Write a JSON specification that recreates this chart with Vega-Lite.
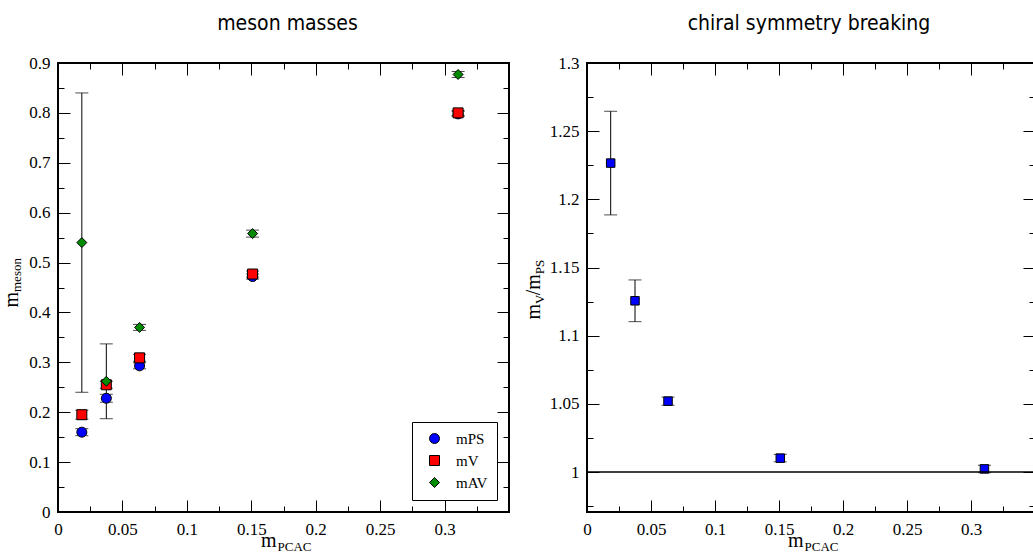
{
  "$schema": "https://vega.github.io/schema/vega-lite/v6.json",
  "background": "white",
  "padding": {"left": 0, "top": 12, "right": 0, "bottom": 0},
  "spacing": 11,
  "resolve": {"legend": {"color": "independent", "shape": "independent"}},
  "config": {
    "view": {"stroke": "black", "strokeWidth": 2},
    "axis": {"grid": false, "domain": false, "labelFont": "Liberation Serif", "labelFontSize": 17, "labelColor": "black", "titleFont": "Liberation Serif", "titleColor": "black", "titleFontWeight": "normal", "tickColor": "black", "tickWidth": 1, "labelFlush": false, "labelOverlap": false, "minExtent": 0},
    "title": {"font": "DejaVu Sans Condensed", "fontSize": 21, "fontWeight": "normal", "color": "black"},
    "legend": {"title": null, "orient": "bottom-right", "offset": 12, "strokeColor": "black", "fillColor": "white", "padding": 9, "labelFont": "Liberation Serif", "labelFontSize": 15, "labelColor": "black", "symbolSize": 100, "symbolOffset": 6, "labelOffset": 14, "rowPadding": 6, "symbolStrokeColor": "black", "symbolStrokeWidth": 1}
  },
  "datasets": {
    "meson": [
      {"x": 0.0185, "series": "mPS", "m": 0.160, "lo": 0.153, "hi": 0.167},
      {"x": 0.0375, "series": "mPS", "m": 0.228, "lo": 0.220, "hi": 0.236},
      {"x": 0.0633, "series": "mPS", "m": 0.293, "lo": 0.287, "hi": 0.299},
      {"x": 0.151, "series": "mPS", "m": 0.472, "lo": 0.467, "hi": 0.477},
      {"x": 0.3105, "series": "mPS", "m": 0.798, "lo": 0.793, "hi": 0.803},
      {"x": 0.0185, "series": "mV", "m": 0.195, "lo": 0.186, "hi": 0.204},
      {"x": 0.0375, "series": "mV", "m": 0.255, "lo": 0.248, "hi": 0.262},
      {"x": 0.0633, "series": "mV", "m": 0.309, "lo": 0.302, "hi": 0.316},
      {"x": 0.151, "series": "mV", "m": 0.477, "lo": 0.471, "hi": 0.483},
      {"x": 0.3105, "series": "mV", "m": 0.800, "lo": 0.795, "hi": 0.805},
      {"x": 0.0185, "series": "mAV", "m": 0.540, "lo": 0.240, "hi": 0.840},
      {"x": 0.0375, "series": "mAV", "m": 0.262, "lo": 0.187, "hi": 0.337},
      {"x": 0.0633, "series": "mAV", "m": 0.370, "lo": 0.364, "hi": 0.376},
      {"x": 0.151, "series": "mAV", "m": 0.558, "lo": 0.551, "hi": 0.565},
      {"x": 0.3105, "series": "mAV", "m": 0.877, "lo": 0.871, "hi": 0.883}
    ],
    "ratio": [
      {"x": 0.0185, "r": 1.2266, "lo": 1.1886, "hi": 1.2646},
      {"x": 0.0375, "r": 1.1256, "lo": 1.1103, "hi": 1.1409},
      {"x": 0.0633, "r": 1.052, "lo": 1.049, "hi": 1.055},
      {"x": 0.151, "r": 1.0102, "lo": 1.0075, "hi": 1.013},
      {"x": 0.3105, "r": 1.0023, "lo": 0.9995, "hi": 1.005}
    ],
    "refline": [{"ref": 1}]
  },
  "hconcat": [
    {
      "title": {"text": "meson masses", "offset": 3, "baseline": "alphabetic", "dx": 4},
      "width": 451,
      "height": 449,
      "data": {"name": "meson"},
      "resolve": {"axis": {"x": "independent", "y": "independent"}},
      "layer": [
        {
          "mark": {"type": "rule", "color": "black", "strokeWidth": 1},
          "encoding": {
            "x": {"field": "x", "type": "quantitative", "scale": {"domain": [0, 0.35], "nice": false, "zero": false},
              "axis": {"orient": "bottom", "values": [0, 0.025, 0.05, 0.075, 0.1, 0.125, 0.15, 0.175, 0.2, 0.225, 0.25, 0.275, 0.3, 0.325], "format": "~g",
                "labelExpr": "abs(datum.value*20-round(datum.value*20))<0.001 && datum.value<0.31 ? datum.label : ''",
                "tickSize": {"condition": {"test": "abs(datum.value*20-round(datum.value*20))<0.001", "value": -12}, "value": -6},
                "labelPadding": 21, "labelBaseline": "top",
                "title": "m", "titleFontSize": 20, "titleX": 218, "titleY": 34, "titleAlign": "right", "titleBaseline": "alphabetic"}},
            "y": {"field": "lo", "type": "quantitative", "scale": {"domain": [0, 0.9], "nice": false, "zero": false},
              "axis": {"orient": "left", "values": [0, 0.05, 0.1, 0.15, 0.2, 0.25, 0.3, 0.35, 0.4, 0.45, 0.5, 0.55, 0.6, 0.65, 0.7, 0.75, 0.8, 0.85, 0.9], "format": "~g",
                "labelExpr": "abs(datum.value*10-round(datum.value*10))<0.001 ? datum.label : ''",
                "tickSize": {"condition": {"test": "abs(datum.value*10-round(datum.value*10))<0.001", "value": -12}, "value": -6},
                "labelPadding": 20,
                "title": "m", "titleFontSize": 20, "titleAngle": 270, "titleX": -41, "titleY": 244, "titleAlign": "left", "titleBaseline": "alphabetic"}},
            "y2": {"field": "hi"}
          }
        },
        {
          "mark": {"type": "tick", "orient": "horizontal", "color": "black", "size": 13, "thickness": 1},
          "encoding": {
            "x": {"field": "x", "type": "quantitative",
              "axis": {"orient": "top", "values": [0, 0.025, 0.05, 0.075, 0.1, 0.125, 0.15, 0.175, 0.2, 0.225, 0.25, 0.275, 0.3, 0.325], "labels": false,
                "tickSize": {"condition": {"test": "abs(datum.value*20-round(datum.value*20))<0.001", "value": -12}, "value": -6}, "title": null}},
            "y": {"field": "lo", "type": "quantitative",
              "axis": {"orient": "right", "values": [0, 0.05, 0.1, 0.15, 0.2, 0.25, 0.3, 0.35, 0.4, 0.45, 0.5, 0.55, 0.6, 0.65, 0.7, 0.75, 0.8, 0.85, 0.9], "labels": false,
                "tickSize": {"condition": {"test": "abs(datum.value*10-round(datum.value*10))<0.001", "value": -12}, "value": -6}, "title": null}}
          }
        },
        {
          "mark": {"type": "tick", "orient": "horizontal", "color": "black", "size": 13, "thickness": 1},
          "encoding": {
            "x": {"field": "x", "type": "quantitative",
              "axis": {"orient": "bottom", "labels": false, "ticks": false, "title": "PCAC", "titleFontSize": 13, "titleX": 219, "titleY": 38.5, "titleAlign": "left", "titleBaseline": "alphabetic"}},
            "y": {"field": "hi", "type": "quantitative",
              "axis": {"orient": "left", "labels": false, "ticks": false, "title": "meson", "titleFontSize": 13, "titleAngle": 270, "titleX": -37.5, "titleY": 228.5, "titleAlign": "left", "titleBaseline": "alphabetic"}}
          }
        },
        {
          "mark": {"type": "point", "filled": true, "stroke": "black", "strokeWidth": 1, "opacity": 1, "size": 100},
          "encoding": {
            "x": {"field": "x", "type": "quantitative", "axis": null},
            "y": {"field": "m", "type": "quantitative", "axis": null},
            "color": {"field": "series", "type": "nominal", "scale": {"domain": ["mPS", "mV", "mAV"], "range": ["#0000ff", "#ff0000", "#008b00"]}, "legend": {"orient": "bottom-right"}},
            "shape": {"field": "series", "type": "nominal", "scale": {"domain": ["mPS", "mV", "mAV"], "range": ["circle", "square", "diamond"]}, "legend": {"orient": "bottom-right"}}
          }
        }
      ]
    },
    {
      "title": {"text": "chiral symmetry breaking", "offset": 3, "baseline": "alphabetic", "dx": -2},
      "width": 448,
      "height": 449,
      "data": {"name": "ratio"},
      "resolve": {"axis": {"x": "independent", "y": "independent"}},
      "layer": [
        {
          "mark": {"type": "rule", "color": "black", "strokeWidth": 1},
          "encoding": {
            "x": {"field": "x", "type": "quantitative", "scale": {"domain": [0, 0.35], "nice": false, "zero": false},
              "axis": {"orient": "bottom", "values": [0, 0.025, 0.05, 0.075, 0.1, 0.125, 0.15, 0.175, 0.2, 0.225, 0.25, 0.275, 0.3, 0.325], "format": "~g",
                "labelExpr": "abs(datum.value*20-round(datum.value*20))<0.001 && datum.value<0.31 ? datum.label : ''",
                "tickSize": {"condition": {"test": "abs(datum.value*20-round(datum.value*20))<0.001", "value": -12}, "value": -6},
                "labelPadding": 21, "labelBaseline": "top",
                "title": "m", "titleFontSize": 20, "titleX": 216, "titleY": 34, "titleAlign": "right", "titleBaseline": "alphabetic"}},
            "y": {"field": "lo", "type": "quantitative", "scale": {"domain": [0.9707, 1.3], "nice": false, "zero": false},
              "axis": {"orient": "left", "values": [0.975, 1, 1.025, 1.05, 1.075, 1.1, 1.125, 1.15, 1.175, 1.2, 1.225, 1.25, 1.275, 1.3], "format": "~g",
                "labelExpr": "abs(datum.value*20-round(datum.value*20))<0.001 ? datum.label : ''",
                "tickSize": {"condition": {"test": "abs(datum.value*20-round(datum.value*20))<0.001", "value": -12}, "value": -6},
                "labelPadding": 20,
                "title": "m", "titleFontSize": 20, "titleAngle": 270, "titleX": -47.7, "titleY": 256, "titleAlign": "left", "titleBaseline": "alphabetic"}},
            "y2": {"field": "hi"}
          }
        },
        {
          "mark": {"type": "tick", "orient": "horizontal", "color": "black", "size": 13, "thickness": 1},
          "encoding": {
            "x": {"field": "x", "type": "quantitative",
              "axis": {"orient": "top", "values": [0, 0.025, 0.05, 0.075, 0.1, 0.125, 0.15, 0.175, 0.2, 0.225, 0.25, 0.275, 0.3, 0.325], "labels": false,
                "tickSize": {"condition": {"test": "abs(datum.value*20-round(datum.value*20))<0.001", "value": -12}, "value": -6}, "title": null}},
            "y": {"field": "lo", "type": "quantitative",
              "axis": {"orient": "right", "values": [0.975, 1, 1.025, 1.05, 1.075, 1.1, 1.125, 1.15, 1.175, 1.2, 1.225, 1.25, 1.275, 1.3], "labels": false,
                "tickSize": {"condition": {"test": "abs(datum.value*20-round(datum.value*20))<0.001", "value": -12}, "value": -6}, "title": null}}
          }
        },
        {
          "mark": {"type": "tick", "orient": "horizontal", "color": "black", "size": 13, "thickness": 1},
          "encoding": {
            "x": {"field": "x", "type": "quantitative",
              "axis": {"orient": "bottom", "labels": false, "ticks": false, "title": "PCAC", "titleFontSize": 13, "titleX": 217, "titleY": 38.5, "titleAlign": "left", "titleBaseline": "alphabetic"}},
            "y": {"field": "hi", "type": "quantitative",
              "axis": {"orient": "left", "labels": false, "ticks": false, "title": "V", "titleFontSize": 13, "titleAngle": 270, "titleX": -44, "titleY": 240.4, "titleAlign": "left", "titleBaseline": "alphabetic"}}
          }
        },
        {
          "mark": {"type": "point", "shape": "square", "filled": true, "color": "#0000ff", "stroke": "black", "strokeWidth": 1, "opacity": 1, "size": 72},
          "encoding": {
            "x": {"field": "x", "type": "quantitative", "axis": null},
            "y": {"field": "r", "type": "quantitative",
              "axis": {"orient": "left", "labels": false, "ticks": false, "title": "/m", "titleFontSize": 20, "titleAngle": 270, "titleX": -47.7, "titleY": 231.7, "titleAlign": "left", "titleBaseline": "alphabetic"}}
          }
        },
        {
          "data": {"name": "refline"},
          "mark": {"type": "rule", "color": "black", "strokeWidth": 1.5},
          "encoding": {
            "y": {"field": "ref", "type": "quantitative",
              "axis": {"orient": "left", "labels": false, "ticks": false, "title": "PS", "titleFontSize": 13, "titleAngle": 270, "titleX": -44, "titleY": 210.7, "titleAlign": "left", "titleBaseline": "alphabetic"}}
          }
        }
      ]
    }
  ]
}
